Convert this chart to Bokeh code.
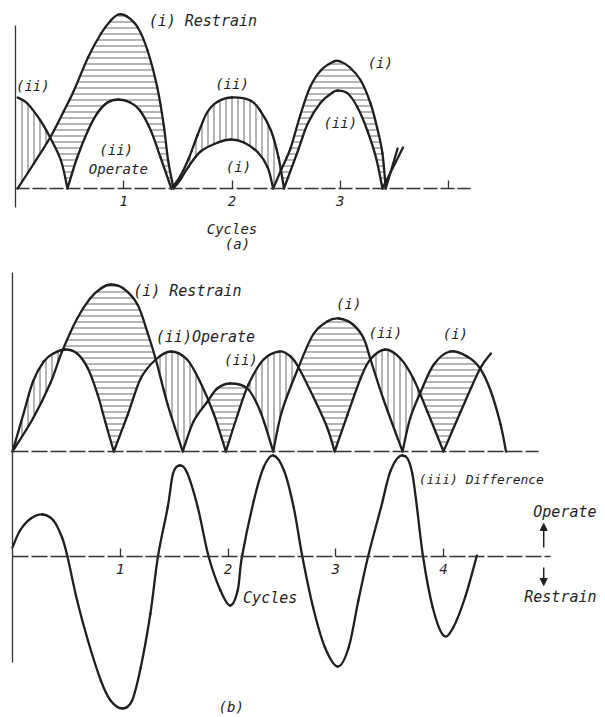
import numpy as np
from bokeh.plotting import figure
from bokeh.models import Range1d, LinearAxis, FixedTicker, Arrow, NormalHead
from bokeh.core.properties import value
from bokeh.embed import file_html
from bokeh.resources import INLINE

# ---------------- data (x in cycles, y in relative amplitude) ----------------
tick_values = [1, 2, 3, 4]
tick_labels_a = {1: "1", 2: "2", 3: "3", 4: ""}
tick_labels_b = {1: "1", 2: "2", 3: "3", 4: "4"}

# (a) rectified restrain (i) and operate (ii)
a_restrain_x = [0.02, 0.17, 0.32, 0.44, 0.54, 0.67, 0.79, 0.88, 0.95, 1.03, 1.13, 1.22, 1.31, 1.37, 1.41, 1.46,
                1.53, 1.60, 1.71, 1.87, 1.99, 2.11, 2.24, 2.33, 2.38,
                2.46, 2.54, 2.63, 2.72, 2.82, 2.94, 3.00, 3.09, 3.19, 3.28, 3.34, 3.39, 3.42, 3.53]
a_restrain_y = [0.00, 0.25, 0.51, 0.76, 0.98, 1.31, 1.55, 1.68, 1.74, 1.72, 1.61, 1.38, 1.01, 0.63, 0.28, 0.00,
                0.10, 0.22, 0.37, 0.46, 0.49, 0.46, 0.36, 0.21, 0.00,
                0.20, 0.40, 0.73, 1.01, 1.18, 1.27, 1.27, 1.21, 1.08, 0.85, 0.61, 0.35, 0.00, 0.40]
a_operate_x = [0.02, 0.11, 0.23, 0.32, 0.42, 0.48, 0.57, 0.67, 0.76, 0.85, 0.95, 1.06, 1.15, 1.25, 1.34, 1.44,
               1.52, 1.60, 1.68, 1.77, 1.87, 2.00, 2.17, 2.26, 2.36, 2.43, 2.48,
               2.61, 2.70, 2.82, 2.93, 2.98, 3.07, 3.16, 3.25, 3.33, 3.39, 3.58]
a_operate_y = [0.91, 0.85, 0.68, 0.51, 0.28, 0.00, 0.31, 0.58, 0.76, 0.86, 0.89, 0.86, 0.78, 0.58, 0.31, 0.00,
               0.12, 0.30, 0.53, 0.76, 0.87, 0.91, 0.88, 0.78, 0.58, 0.31, 0.00,
               0.38, 0.65, 0.86, 0.96, 0.98, 0.95, 0.81, 0.58, 0.31, 0.00, 0.41]

# (b) rectified restrain (i) and operate (ii)
b_restrain_x = [0.00, 0.19, 0.35, 0.46, 0.60, 0.72, 0.82, 0.91, 1.03, 1.16, 1.25, 1.33, 1.44, 1.58,
                1.68, 1.81, 1.90, 2.02, 2.18, 2.30, 2.42,
                2.50, 2.65, 2.79, 2.92, 3.03, 3.16, 3.26, 3.32, 3.44, 3.62,
                3.69, 3.79, 3.91, 4.06, 4.22, 4.34, 4.44, 4.53, 4.58]
b_restrain_y = [0.00, 0.33, 0.68, 1.00, 1.33, 1.53, 1.63, 1.67, 1.63, 1.47, 1.20, 0.92, 0.47, 0.00,
                0.30, 0.50, 0.63, 0.68, 0.63, 0.40, 0.00,
                0.40, 0.83, 1.17, 1.30, 1.33, 1.27, 1.13, 0.93, 0.53, 0.00,
                0.33, 0.60, 0.87, 1.00, 0.95, 0.83, 0.60, 0.27, 0.00]
b_operate_x = [0.00, 0.10, 0.19, 0.29, 0.38, 0.49, 0.60, 0.70, 0.79, 0.86, 0.94,
               1.07, 1.19, 1.33, 1.47, 1.62, 1.74, 1.87, 1.98,
               2.09, 2.19, 2.33, 2.48, 2.58, 2.65, 2.79, 2.92, 2.99,
               3.11, 3.23, 3.32, 3.46, 3.60, 3.72, 3.85, 4.00,
               4.16, 4.34, 4.44]
b_operate_y = [0.00, 0.37, 0.70, 0.90, 0.98, 1.02, 0.98, 0.83, 0.57, 0.30, 0.00,
               0.37, 0.73, 0.92, 1.00, 0.92, 0.70, 0.37, 0.00,
               0.37, 0.67, 0.92, 1.00, 0.95, 0.85, 0.55, 0.24, 0.00,
               0.37, 0.73, 0.92, 1.02, 0.93, 0.73, 0.40, 0.00,
               0.40, 0.83, 0.98]

# (b) difference (iii) = operate - restrain
b_diff_x = [0.00, 0.07, 0.17, 0.28, 0.38, 0.46, 0.51, 0.60, 0.70, 0.82, 0.91, 1.02, 1.11, 1.19, 1.28, 1.35,
            1.44, 1.49, 1.55, 1.62, 1.72, 1.82, 1.93, 2.02, 2.09, 2.13, 2.24, 2.33, 2.42, 2.52, 2.61, 2.69,
            2.79, 2.90, 3.02, 3.12, 3.21, 3.30, 3.42, 3.51, 3.62, 3.71, 3.81, 3.90, 4.00, 4.09, 4.20, 4.31]
b_diff_y = [0.09, 0.26, 0.38, 0.42, 0.36, 0.19, 0.00, -0.44, -0.84, -1.24, -1.44, -1.52, -1.44, -1.11, -0.57, 0.00,
            0.49, 0.83, 0.91, 0.84, 0.49, 0.00, -0.34, -0.49, -0.34, 0.00, 0.56, 0.89, 1.01, 0.86, 0.49, 0.00,
            -0.51, -0.91, -1.10, -0.91, -0.44, 0.00, 0.49, 0.86, 1.01, 0.83, 0.00, -0.51, -0.79, -0.71, -0.41, 0.01]

# ---------------- figure ----------------
INK = "#1f1f1f"
HATCH = "#5a5a5a"
FONT = value("DejaVu Sans Mono")

W, H = 603, 715
p = figure(width=W, height=H, min_border=0, toolbar_location=None,
           x_axis_type=None, y_axis_type=None, output_backend="svg",
           x_range=Range1d(-12 / 107.75, (W - 12) / 107.75), y_range=Range1d(-(H - 556) / 100, 5.56))
p.extra_x_ranges = {"xa": Range1d(-15 / 108.25, (W - 15) / 108.25)}
p.extra_y_ranges = {"ya": Range1d(-(H - 188) / 100, 1.88), "yb": Range1d(-(H - 451) / 100, 4.51)}
p.outline_line_color = None
p.background_fill_color = "white"
p.border_fill_color = "white"


def smooth_segments(xs, ys, cusps=True):
    """Cubic Bezier pieces through the read points; rectified curves keep their sharp zeros."""
    xs = np.asarray(xs, float)
    ys = np.asarray(ys, float)
    n = len(xs)
    cuts = [0] + [i for i in range(1, n - 1) if cusps and ys[i] == 0] + [n - 1]
    seg = {k: [] for k in ("x0", "y0", "x1", "y1", "cx0", "cy0", "cx1", "cy1")}
    for a, b in zip(cuts[:-1], cuts[1:]):
        px, py = xs[a:b + 1], ys[a:b + 1]
        m = len(px)
        for i in range(m - 1):
            im1, ip2 = max(i - 1, 0), min(i + 2, m - 1)
            seg["x0"].append(px[i]); seg["y0"].append(py[i])
            seg["x1"].append(px[i + 1]); seg["y1"].append(py[i + 1])
            seg["cx0"].append(px[i] + (px[i + 1] - px[im1]) / 6)
            seg["cy0"].append(py[i] + (py[i + 1] - py[im1]) / 6)
            seg["cx1"].append(px[i + 1] - (px[ip2] - px[i]) / 6)
            seg["cy1"].append(py[i + 1] - (py[ip2] - py[i]) / 6)
    return {k: np.array(v) for k, v in seg.items()}


def trace(seg, k=30):
    t = np.linspace(0, 1, k)[None, :]
    def bez(p0, c0, c1, p1):
        return ((1 - t) ** 3 * p0[:, None] + 3 * (1 - t) ** 2 * t * c0[:, None]
                + 3 * (1 - t) * t ** 2 * c1[:, None] + t ** 3 * p1[:, None]).ravel()
    return bez(seg["x0"], seg["cx0"], seg["cx1"], seg["x1"]), bez(seg["y0"], seg["cy0"], seg["cy1"], seg["y1"])


def hatch_between(rseg, oseg, x0, x1, xr, yr):
    rx, ry = trace(rseg)
    ox, oy = trace(oseg)
    xs = np.linspace(x0, x1, 2500)
    r = np.interp(xs, rx, ry)
    o = np.interp(xs, ox, oy)
    top = np.maximum(r, o)
    kw = dict(fill_alpha=0, hatch_color=HATCH, hatch_weight=1, hatch_scale=6, hatch_alpha=0.9)
    if xr:
        kw["x_range_name"] = xr
    if yr:
        kw["y_range_name"] = yr
    p.varea(x=xs, y1=o, y2=top, hatch_pattern="horizontal_line", **kw)   # restrain larger
    p.varea(x=xs, y1=r, y2=top, hatch_pattern="vertical_line", **kw)     # operate larger


seg_ar = smooth_segments(a_restrain_x, a_restrain_y)
seg_ao = smooth_segments(a_operate_x, a_operate_y)
seg_br = smooth_segments(b_restrain_x, b_restrain_y)
seg_bo = smooth_segments(b_operate_x, b_operate_y)
seg_bd = smooth_segments(b_diff_x, b_diff_y, cusps=False)

hatch_between(seg_ar, seg_ao, 0.02, 3.40, "xa", "ya")
hatch_between(seg_br, seg_bo, 0.0, 4.34, None, "yb")

line_kw = dict(line_color=INK, line_width=2.3, line_cap="round")
p.bezier(x_range_name="xa", y_range_name="ya", **seg_ar, **line_kw)
p.bezier(x_range_name="xa", y_range_name="ya", **seg_ao, **line_kw)
p.bezier(y_range_name="yb", **seg_br, **line_kw)
p.bezier(y_range_name="yb", **seg_bo, **line_kw)
p.bezier(**seg_bd, **line_kw)


# ---------------- axes ----------------
def style_axis(ax, ticks, labels=None):
    ax.ticker = FixedTicker(ticks=ticks, minor_ticks=[])
    ax.axis_line_color = "#333333"
    ax.axis_line_width = 1.3
    ax.major_tick_line_color = "#333333"
    ax.major_tick_line_width = 1.3
    ax.major_tick_in = 8
    ax.major_tick_out = 0
    ax.minor_tick_line_color = None
    ax.major_label_text_font = "DejaVu Sans Mono"
    ax.major_label_text_font_style = "italic"
    ax.major_label_text_font_size = "14px"
    ax.major_label_text_color = INK
    ax.major_label_standoff = 7
    if labels is not None:
        ax.major_label_overrides = labels


ax_a = LinearAxis(x_range_name="xa", y_range_name="ya", fixed_location=0, bounds=(0, 4.20))
style_axis(ax_a, tick_values, tick_labels_a)
ax_a.axis_line_dash = "14 3"
p.add_layout(ax_a, "below")

ay_a = LinearAxis(x_range_name="xa", y_range_name="ya", fixed_location=0, bounds=(-0.19, 1.63))
style_axis(ay_a, [])
p.add_layout(ay_a, "left")

ax_b1 = LinearAxis(y_range_name="yb", fixed_location=0, bounds=(0, 4.88))
style_axis(ax_b1, [])
ax_b1.axis_line_dash = "16 3"
p.add_layout(ax_b1, "below")

ax_b2 = LinearAxis(fixed_location=0, bounds=(0, 4.99))
style_axis(ax_b2, tick_values, tick_labels_b)
ax_b2.axis_line_dash = "16 3"
p.add_layout(ax_b2, "below")

ay_b = LinearAxis(fixed_location=0, bounds=(-1.06, 2.84))
style_axis(ay_b, [])
p.add_layout(ay_b, "left")

# ---------------- labels ----------------
txt = dict(text_font=FONT, text_font_style="italic", text_color=INK, text_baseline="middle")

# panel (a)
p.text(x=[1.23], y=[1.68], text=["(i) Restrain"], text_font_size="15px", text_align="left",
       x_range_name="xa", y_range_name="ya", **txt)
p.text(x=[0.16, 2.00, 3.37, 3.00, 0.93, 0.95, 2.06, 2.00, 2.05],
       y=[1.03, 1.05, 1.26, 0.66, 0.39, 0.20, 0.22, -0.40, -0.55],
       text=["(ii)", "(ii)", "(i)", "(ii)", "(ii)", "Operate", "(i)", "Cycles", "(a)"],
       text_font_size="14px", text_align="center", x_range_name="xa", y_range_name="ya", **txt)

# panel (b) rectified
p.text(x=[1.12, 1.33], y=[1.61, 1.15], text=["(i) Restrain", "(ii)Operate"],
       text_font_size="15px", text_align="left", y_range_name="yb", **txt)
p.text(x=[2.12, 3.12, 3.46, 4.11], y=[0.92, 1.48, 1.19, 1.18], text=["(ii)", "(i)", "(ii)", "(i)"],
       text_font_size="14px", text_align="center", y_range_name="yb", **txt)

# panel (b) difference
p.text(x=[3.77], y=[0.77], text=["(iii) Difference"], text_font_size="13px", text_align="left", **txt)
p.text(x=[5.42, 5.42], y=[0.45, -0.40], text=["Operate", "Restrain"], text_font_size="15px",
       text_align="right", **txt)
p.text(x=[2.14], y=[-0.41], text=["Cycles"], text_font_size="15px", text_align="left", **txt)
p.text(x=[2.03], y=[-1.50], text=["(b)"], text_font_size="14px", text_align="center", **txt)

p.add_layout(Arrow(end=NormalHead(size=7, fill_color=INK, line_color=INK, line_width=1),
                   x_start=4.93, y_start=0.09, x_end=4.93, y_end=0.33, line_color=INK, line_width=1.5))
p.add_layout(Arrow(end=NormalHead(size=7, fill_color=INK, line_color=INK, line_width=1),
                   x_start=4.93, y_start=-0.11, x_end=4.93, y_end=-0.29, line_color=INK, line_width=1.5))

open("out.html", "w").write(file_html(p, INLINE))
